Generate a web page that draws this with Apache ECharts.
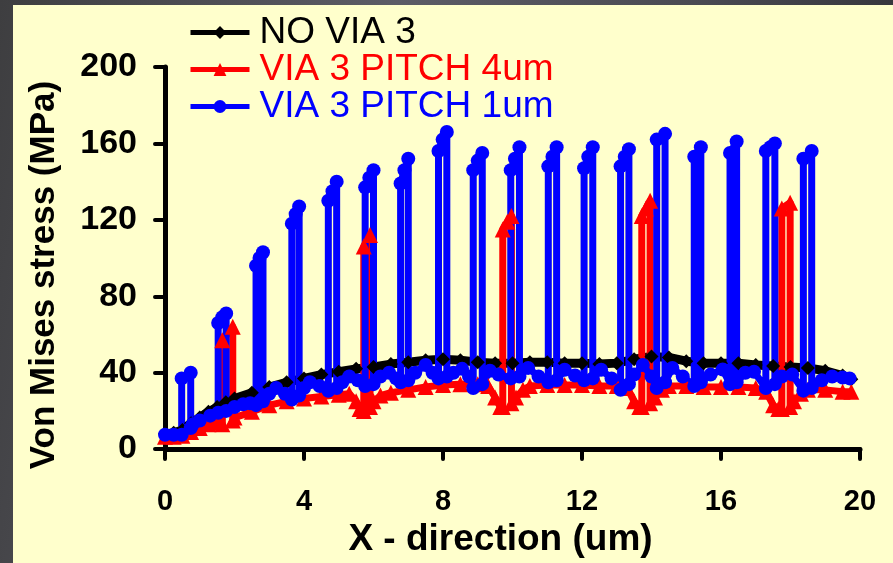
<!DOCTYPE html>
<html>
<head>
<meta charset="utf-8">
<script src="https://cdn.jsdelivr.net/npm/echarts@6/dist/echarts.min.js"></script>
<style>
  html, body { margin:0; padding:0; width:893px; height:563px; overflow:hidden;
    background: linear-gradient(100deg, #3e3e40 0%, #5c5c66 40%, #4a4a52 70%, #2e2e32 100%); }
  #chart { position:absolute; left:13px; top:5px; width:880px; height:558px; background:#FFFFCC; }
</style>
</head>
<body>
<div id="chart"></div>
<script>
// ---- data (x in um, y in MPa) ----
const seriesNames = ['NO VIA 3', 'VIA 3 PITCH 4um', 'VIA 3 PITCH 1um'];
const seriesColors = ['#000000', '#FF0000', '#0000FF'];

const noViaData = [
  [0,8],[0.25,8.5],[0.5,10],[0.75,13.5],[1.0,16.5],[1.25,19.5],[1.5,22],[1.75,24.5],
  [2.0,26.5],[2.5,29.5],[3.0,32.5],[3.5,35],[4.0,37],[4.5,39],[5.0,40.5],[5.5,42],
  [6.0,43],[6.5,44.5],[7.0,45.5],[7.5,46.5],[8.0,47],[8.5,46.5],[9.0,45.5],[9.5,45],
  [10.0,45],[10.5,45.5],[11.0,45.5],[11.5,45],[12.0,45],[12.5,44.5],[13.0,45],[13.5,47],
  [14.0,48.5],[14.5,48],[15.0,46],[15.5,45],[16.0,45],[16.5,45],[17.0,44],[17.5,43.5],
  [18.0,43],[18.5,42.5],[19.0,41],[19.5,38.5],[19.75,36.5]
];

const pitch4Data = [
  [0,6.5],[0.25,6.5],[0.5,7],[0.75,9],[1.0,11],[1.25,13],[1.5,14],
  [1.65,13],[1.65,57],[1.95,64],[1.95,15],
  [2.0,16.5],[2.5,19.5],[3.0,23],[3.5,25],[4.0,26.5],[4.5,27.5],[5.0,28.5],[5.3,29],
  [5.5,25],[5.6,21],[5.72,20],[5.72,106],[5.9,112],[5.9,22],
  [6.0,25],[6.2,28],[6.5,29.5],[7.0,31],[7.5,32.5],[8.0,33.5],[8.5,34],[9.0,34],[9.3,33],
  [9.5,27],[9.65,22],[9.72,22],[9.72,115],[9.85,119],[9.97,122],[9.97,24],
  [10.1,27],[10.3,31],[10.5,33],[11.0,33.5],[11.5,33.5],[12.0,33.5],[12.5,33],[13.0,33],[13.3,32],
  [13.5,25],[13.65,22],[13.72,22],[13.72,122],[13.84,126],[13.96,130],[13.96,24],
  [14.1,27],[14.3,31],[14.5,33],[15.0,33],[15.5,32.5],[16.0,32.5],[16.5,32.5],[17.0,32],[17.3,30],
  [17.5,23],[17.65,21],[17.75,21],[17.75,126],[17.99,129],[17.99,22],
  [18.1,25],[18.3,29],[18.5,31],[19.0,31],[19.5,30],[19.75,30]
];

const pitch1Data = [
  [0,7.5],[0.25,7.5],[0.48,7.5],[0.48,37],[0.74,40],[0.74,11],
  [0.8,13],[1.0,15],[1.3,17.5],[1.53,19],[1.53,66],[1.65,69],[1.76,71],[1.76,20],
  [2.0,22],[2.25,23.5],[2.45,24],[2.62,23],[2.62,96],[2.72,100],[2.82,103],[2.82,25],
  [3.0,29],[3.2,32],[3.45,29],[3.65,26],[3.65,118],[3.76,123],[3.86,127],[3.86,28],
  [4.0,32],[4.17,35],[4.45,33],[4.70,30.5],[4.70,130],[4.82,135],[4.94,140],[4.94,32],
  [5.1,35],[5.3,38],[5.55,36],[5.76,33],[5.76,137],[5.88,142],[6.0,146],[6.0,34],
  [6.2,38],[6.45,40],[6.65,37],[6.78,35],[6.78,139],[6.89,146],[7.0,152],[7.0,36],
  [7.2,40],[7.5,44],[7.7,40],[7.87,37],[7.87,156],[7.99,162],[8.11,166],[8.11,38],
  [8.3,40],[8.55,42],[8.75,38],[8.87,32],[8.87,146],[9.0,151],[9.13,155],[9.13,34],
  [9.35,41],[9.6,39],[9.95,37],[9.95,146],[10.07,152],[10.2,158],[10.2,38],
  [10.45,42.5],[10.75,38],[11.03,35],[11.03,148],[11.15,153],[11.27,158],[11.27,36],
  [11.5,41.5],[11.8,38.5],[12.06,36],[12.06,147],[12.18,153],[12.31,158],[12.31,37],
  [12.55,41.5],[12.85,37],[13.11,31],[13.11,148],[13.23,153],[13.35,157],[13.35,34],
  [13.5,39],[13.75,44],[14.0,38],[14.15,32],[14.15,162],[14.39,165],[14.39,35],
  [14.6,42.5],[14.9,38],[15.23,33],[15.23,153],[15.42,158],[15.42,35],
  [15.7,39],[16.05,41.7],[16.26,34],[16.26,155],[16.45,161],[16.45,35],
  [16.7,40],[16.95,40.5],[17.29,32],[17.29,156],[17.42,158],[17.55,160],[17.55,34],
  [17.75,38],[18.05,39],[18.37,30.6],[18.37,152],[18.61,156],[18.61,32],
  [18.9,36],[19.2,38],[19.5,37.5],[19.7,37]
];

const xMin = 0, xMax = 20, xStep = 4;
const yMin = 0, yMax = 200, yStep = 40;

// ---- chart ----
const FONT = "'Liberation Sans', Arial, sans-serif";
const chart = echarts.init(document.getElementById('chart'), null, { renderer: 'canvas' });
const dataSets = [noViaData, pitch4Data, pitch1Data];
const symbols = ['diamond', 'triangle', 'circle'];
const symbolSizes = [14, 16, 14];
const lineWidths = [9, 7, 7];

chart.setOption({
  animation: false,
  backgroundColor: '#FFFFCC',
  grid: { left: 152, right: 33, top: 62, bottom: 111 },
  legend: {
    orient: 'vertical', left: 175, top: 9, padding: 0,
    itemWidth: 59, itemHeight: 16, itemGap: 0,
    lineStyle: { width: 5 },
    textStyle: { fontFamily: FONT, fontSize: 37, lineHeight: 35, padding: [0, 0, 0, 5] },
    data: seriesNames.map((n, i) => ({ name: n, textStyle: { color: seriesColors[i] } }))
  },
  xAxis: {
    type: 'value', min: xMin, max: xMax, interval: xStep,
    axisLine: { show: true, lineStyle: { color: '#000', width: 5, cap: 'round' } },
    axisTick: { show: true, length: 10, lineStyle: { color: '#000', width: 4, cap: 'round' } },
    axisLabel: { color: '#000', fontFamily: FONT, fontWeight: 'bold', fontSize: 29, margin: 38 },
    splitLine: { show: false },
    name: 'X - direction (um)', nameLocation: 'middle', nameGap: 62,
    nameTextStyle: { color: '#000', fontFamily: FONT, fontWeight: 'bold', fontSize: 37, padding: [0, 24, 0, 0] }
  },
  yAxis: {
    type: 'value', min: yMin, max: yMax, interval: yStep,
    axisLine: { show: true, lineStyle: { color: '#000', width: 5, cap: 'round' } },
    axisTick: { show: true, length: 10, lineStyle: { color: '#000', width: 4, cap: 'round' } },
    axisLabel: { color: '#000', fontFamily: FONT, fontWeight: 'bold', fontSize: 34, margin: 28 },
    splitLine: { show: false },
    name: 'Von Mises stress (MPa)', nameLocation: 'middle', nameGap: 103, nameRotate: 90,
    nameTextStyle: { color: '#000', fontFamily: FONT, fontWeight: 'bold', fontSize: 35, padding: [0, 34, 0, 0] }
  },
  series: seriesNames.map((n, i) => ({
    name: n, type: 'line', data: dataSets[i],
    symbol: symbols[i], symbolSize: symbolSizes[i], showAllSymbol: true,
    lineStyle: { color: seriesColors[i], width: lineWidths[i], join: 'round' },
    itemStyle: { color: seriesColors[i] },
    emphasis: { disabled: true }
  }))
});
</script>
</body>
</html>
